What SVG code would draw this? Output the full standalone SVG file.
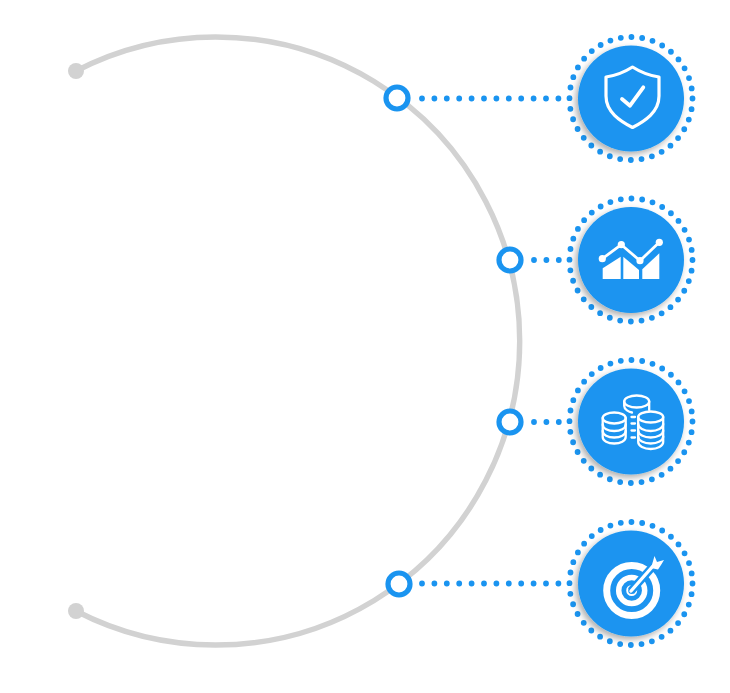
<svg xmlns="http://www.w3.org/2000/svg" width="730" height="693" viewBox="0 0 730 693">
  <defs>
    <filter id="shadow" x="-30%" y="-30%" width="160%" height="160%">
      <feDropShadow dx="-2.5" dy="3" stdDeviation="3" flood-color="#000" flood-opacity="0.32"/>
    </filter>
    <g id="badge">
      <circle class="ring-dots" r="61.5"/>
      <circle class="disc" r="53" filter="url(#shadow)"/>
    </g>
  </defs>
  <style>
    .arc{fill:none;stroke:#d2d2d2;stroke-width:5.400}
    .end{fill:#d2d2d2}
    .dots{fill:none;stroke:#1a94f0;stroke-width:5.800;stroke-linecap:round;stroke-dasharray:0 12.4}
    .ring-dots{fill:none;stroke:#1a94f0;stroke-width:5.800;stroke-linecap:round;stroke-dasharray:0 10.7338}
    .disc{fill:#1a94f0}
    .port{fill:#fff;stroke:#1a94f0;stroke-width:5.200}
    .ol{fill:none;stroke:#fff;stroke-linecap:round;stroke-linejoin:round}
    .fill{fill:#fff}
  </style>
  <rect width="730" height="693" fill="#fff"/>
  <g id="connectors">
    <path class="arc" d="M76 71A304 304 0 1 1 76 611"/>
    <circle class="end" cx="76" cy="71" r="8"/>
    <circle class="end" cx="76" cy="611" r="8"/>
    <path class="dots" d="M422 98.500H562"/>
    <path class="dots" d="M534 260H562"/>
    <path class="dots" d="M534 422H562"/>
    <path class="dots" d="M422 583.500H562"/>
  </g>
  <g id="port-1"><circle class="port" cx="397" cy="98" r="11"/></g>
  <g id="port-2"><circle class="port" cx="510" cy="260" r="11"/></g>
  <g id="port-3"><circle class="port" cx="510" cy="422" r="11"/></g>
  <g id="port-4"><circle class="port" cx="399" cy="584" r="11"/></g>
  <g id="node-shield">
    <use href="#badge" x="631" y="98.500"/>
    <path class="ol" stroke-width="3.200" d="M632.500 67Q620 75 606 77V96C606 112 620 121 632.500 127.500C645 121 659 112 659 96V77Q645 75 632.500 67Z"/>
    <path class="ol" stroke-width="3.800" d="M622 99L630 105.700L643.300 87.300"/>
  </g>
  <g id="node-chart">
    <use href="#badge" x="631" y="260"/>
    <path class="ol" stroke-width="2.800" d="M602.300 258.700L621.300 244.700L640 260.700L659.300 242.300"/>
    <g class="fill">
      <circle cx="602.300" cy="258.700" r="3.600"/>
      <circle cx="621.300" cy="244.700" r="3.600"/>
      <circle cx="640" cy="260.700" r="3.600"/>
      <circle cx="659.300" cy="242.300" r="3.600"/>
      <path d="M602.700 279V268.300L620.700 256.700V279Z"/>
      <path d="M623.300 279V256.700L639 270V279Z"/>
      <path d="M642.300 279V269.300L659.300 253.300V279Z"/>
    </g>
  </g>
  <g id="node-coins">
    <use href="#badge" x="631" y="421.500"/>
    <g class="ol" stroke-width="2.300">
      <ellipse cx="636.700" cy="401.500" rx="12.500" ry="6"/>
      <path d="M624.200 401.500V406C624.200 409.500 629 412 632 412.500M649.200 401.500V410"/>
      <ellipse cx="614.200" cy="418" rx="11.500" ry="5.500"/>
      <path d="M602.700 418V437C602.700 441 608 443.500 614.200 443.500C620.400 443.500 625.700 441 625.700 437V418"/>
      <path d="M602.700 424.500C602.700 428.500 608 431 614.200 431C620.400 431 625.700 428.500 625.700 424.500"/>
      <path d="M602.700 431C602.700 435 608 437.500 614.200 437.500C620.400 437.500 625.700 435 625.700 431"/>
      <ellipse cx="650.700" cy="417" rx="12.500" ry="5.500"/>
      <path d="M638.200 417V442C638.200 446 644 449 650.700 449C657.400 449 663.200 446 663.200 442V417"/>
      <path d="M638.200 424C638.200 428 644 431 650.700 431C657.400 431 663.200 428 663.200 424"/>
      <path d="M638.200 430.500C638.200 434.500 644 437.500 650.700 437.500C657.400 437.500 663.200 434.500 663.200 430.500"/>
      <path d="M638.200 436.500C638.200 440.500 644 443.500 650.700 443.500C657.400 443.500 663.200 440.500 663.200 436.500"/>
      <path d="M631.500 417H635M631.500 423.500H635M631.500 430.500H635M631.500 437.500H635"/>
    </g>
  </g>
  <g id="node-target">
    <use href="#badge" x="631" y="583.500"/>
    <circle class="ol" cx="631.700" cy="590.500" r="25" stroke-width="7"/>
    <circle class="ol" cx="631.700" cy="590.500" r="13" stroke-width="5.500"/>
    <circle class="ol" cx="631.700" cy="590.500" r="4.500" stroke-width="2"/>
    <path d="M631 591L655 564" fill="none" stroke="#1a94f0" stroke-width="8"/>
    <path class="ol" stroke-width="3.400" d="M631 591L653 566"/>
    <path class="fill" d="M651 568L654.500 556L657 562L664 560L661 565L658 569.500Z"/>
  </g>
</svg>
